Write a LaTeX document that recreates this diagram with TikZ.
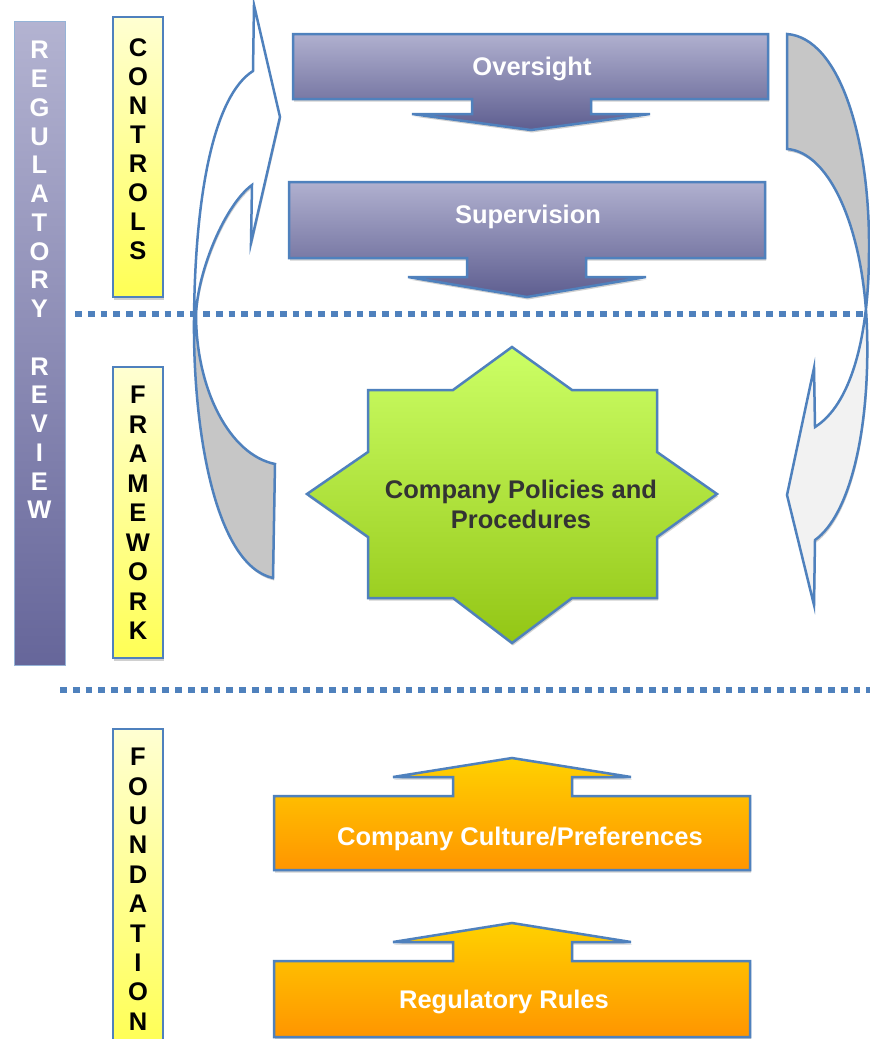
\documentclass[tikz,border=0pt]{standalone}
\usepackage{fontspec}
\setmainfont{Liberation Sans}
\definecolor{bl}{HTML}{4F81BD}
\definecolor{purT}{HTML}{B0B0CF}
\definecolor{purB}{HTML}{5E5E90}
\definecolor{regT}{HTML}{B3B3D1}
\definecolor{regB}{HTML}{66669A}
\definecolor{grnT}{HTML}{CCFF66}
\definecolor{grnB}{HTML}{93C615}
\definecolor{orT}{HTML}{FFD100}
\definecolor{orB}{HTML}{FF9500}
\definecolor{yelT}{HTML}{FFFFD2}
\definecolor{yelB}{HTML}{FFFF55}
\definecolor{midgray}{HTML}{C6C6C6}
\definecolor{ltgray}{HTML}{F2F2F2}
\definecolor{shd}{HTML}{D0D0D0}
\definecolor{dark}{HTML}{333333}
\newcommand\leftcurvepath{(273,578) .. controls (215,565) and (193,430) .. (194,320) .. controls (195,190) and (215,95) .. (253,71) -- (254,5) -- (280,117) -- (251,243) -- (252,185) .. controls (225,205) and (198,270) .. (196,314) .. controls (196,390) and (230,455) .. (275,464) -- cycle}
\newcommand\rightcurvepath{(787,34) .. controls (840,38) and (870,140) .. (869,250) .. controls (869,340) and (850,405) .. (815,427) -- (814,368) -- (787,495) -- (814,605) -- (815,540) .. controls (850,515) and (870,430) .. (867,330) .. controls (864,230) and (830,152) .. (787,149) -- cycle}
\begin{document}
\begin{tikzpicture}[x=1pt,y=-1pt,
  outl/.style={draw=bl, line width=2.5pt, line join=miter},
  shadowed/.style={preaction={fill=shd, transform canvas={xshift=1pt, yshift=-2.5pt}}},
  purp/.style={outl, shadowed, top color=purT, bottom color=purB},
  oran/.style={outl, shadowed, top color=orT, bottom color=orB},
  ybar/.style={outl, shadowed, top color=yelT, bottom color=yelB},
  lab/.style={font=\fontsize{25.5}{30}\selectfont\bfseries, inner sep=0pt},
  vlet/.style={font=\fontsize{25.5}{#1}\selectfont\bfseries, inner sep=0pt, align=center, anchor=north},
  dotline/.style={draw=bl, line width=5.8pt, dash pattern=on 6.8pt off 6pt}]
\useasboundingbox (0,0) rectangle (870,1039);
\fill[white] (0,0) rectangle (870,1039);

% separators
\coordinate (d1a) at (75,314); \coordinate (d1b) at (866,314);
\coordinate (d2a) at (60,690); \coordinate (d2b) at (870,690);
\draw[dotline] (d1a) -- (d1b);
\draw[dotline] (d2a) -- (d2b);

% left bars
\path[top color=regT, bottom color=regB, draw=bl!60, line width=1pt] (14,21) rectangle (65,665);
\node[vlet=28.75, text=white] (regtxt) at (39.5,41) {R\\E\\G\\U\\L\\A\\T\\O\\R\\Y\\[28.75pt]R\\E\\V\\I\\E\\W};
\path[ybar] (113,17) rectangle (163,297);
\node[vlet=29, text=black] (ctltxt) at (138,38) {C\\O\\N\\T\\R\\O\\L\\S};
\path[ybar] (113,367) rectangle (163,658);
\node[vlet=29.5, text=black] (frmtxt) at (138,386) {F\\R\\A\\M\\E\\W\\O\\R\\K};
\path[ybar] (113,729) rectangle (163,1045);
\node[vlet=29.4, text=black] (fndtxt) at (138,748) {F\\O\\U\\N\\D\\A\\T\\I\\O\\N};

% left curved arrow
\fill[shd, transform canvas={xshift=1pt, yshift=-2.5pt}] \leftcurvepath;
\fill[white] \leftcurvepath;
\begin{scope}
  \clip (150,316) rectangle (300,600);
  \fill[midgray] \leftcurvepath;
\end{scope}
\draw[outl] \leftcurvepath;

% right curved arrow
\fill[shd, transform canvas={xshift=1pt, yshift=-2.5pt}] \rightcurvepath;
\fill[ltgray] \rightcurvepath;
\begin{scope}
  \clip (760,0) rectangle (880,303);
  \fill[midgray] \rightcurvepath;
\end{scope}
\draw[outl] \rightcurvepath;

% purple down arrows
\path[purp] (293,34) -- (768,34) -- (768,99) -- (591,99) -- (591,114) -- (650,114) -- (531,130) -- (412,114) -- (472,114) -- (472,99) -- (293,99) -- cycle;
\node[lab, text=white, anchor=base] (oversight) at (532,75) {Oversight};
\path[purp] (289,182) -- (765,182) -- (765,258) -- (586,258) -- (586,277) -- (646,277) -- (527,297) -- (408,277) -- (467,277) -- (467,258) -- (289,258) -- cycle;
\node[lab, text=white, anchor=base] (supervision) at (528,223) {Supervision};

% star
\path[outl, shadowed, top color=grnT, bottom color=grnB] (512,347) -- (572,390) -- (657,390) -- (657,452) -- (717,494) -- (657,537) -- (657,598) -- (572,598) -- (512,643) -- (453,598) -- (368,598) -- (368,537) -- (307,494) -- (368,452) -- (368,390) -- (453,390) -- cycle;
\node[lab, text=dark, align=center, anchor=north] (policies) at (521,480) {Company Policies and\\Procedures};

% orange up arrows
\path[oran] (274,796) -- (453,796) -- (453,777) -- (393,777) -- (512,758) -- (631,777) -- (572,777) -- (572,796) -- (750,796) -- (750,870) -- (274,870) -- cycle;
\node[lab, text=white, anchor=base] (culture) at (520,845) {Company Culture/Preferences};
\path[oran] (274,961) -- (453,961) -- (453,942) -- (393,942) -- (512,923) -- (631,942) -- (572,942) -- (572,961) -- (750,961) -- (750,1037) -- (274,1037) -- cycle;
\node[lab, text=white, anchor=base] (rules) at (504,1008) {Regulatory Rules};
\end{tikzpicture}
\end{document}
